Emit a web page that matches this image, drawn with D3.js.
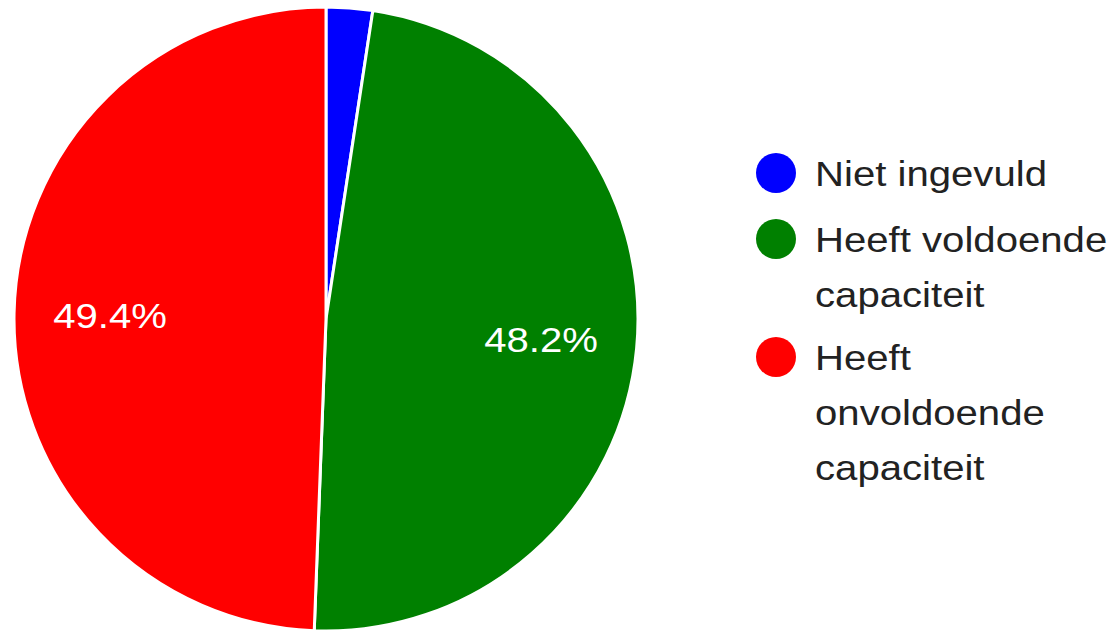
<!DOCTYPE html>
<html>
<head>
<meta charset="utf-8">
<script src="https://cdn.jsdelivr.net/npm/d3@7"></script>
<style>
  body { margin: 0; background: #fff; }
  svg { display: block; }
</style>
</head>
<body>
<script>
// chart data
var categories = ["Niet ingevuld", "Heeft voldoende capaciteit", "Heeft onvoldoende capaciteit"];
var values = [2.4, 48.2, 49.4];
var colors = ["#0000ff", "#008000", "#ff0000"];
// legend text split into lines like the original
var legendLines = [["Niet ingevuld"], ["Heeft voldoende", "capaciteit"], ["Heeft", "onvoldoende", "capaciteit"]];

var width = 1114, height = 630;
var cx = 326, cy = 319, radius = 312;
// the original text is a bit wider than plain Liberation Sans
var stretch = 1.115;

var svg = d3.select("body").append("svg")
        .attr("width", width)
        .attr("height", height);

var pie = d3.pie().sort(null).value(function(d){ return d; });
var arcs = pie(values);

var arc = d3.arc().innerRadius(0).outerRadius(radius);
var labelArc = d3.arc().innerRadius(216).outerRadius(216);

var g = svg.append("g").attr("transform", "translate(" + cx + "," + cy + ")");

g.selectAll("path")
        .data(arcs)
        .enter().append("path")
                .attr("d", arc)
                .attr("fill", function(d,i){ return colors[i]; })
                .attr("stroke", "#fff")
                .attr("stroke-width", 3);

// percent labels, only for the big slices
g.selectAll("text")
        .data(arcs.filter(function(d){ return d.value > 5; }))
        .enter().append("text")
                .attr("transform", function(d){ return "translate(" + labelArc.centroid(d) + ") scale(" + stretch + ",1)"; })
                .attr("text-anchor", "middle")
                .attr("dy", "0.36em")
                .attr("fill", "#fff")
                .style("font-family", "Liberation Sans, Arial, sans-serif")
                .style("font-size", "36px")
                .text(function(d){ return d.value.toFixed(1) + "%"; });

// legend
var legendY = [173, 239, 357];
var lineH = 55;
var legend = svg.selectAll("g.legend")
        .data(categories)
        .enter().append("g")
                .attr("class", "legend")
                .attr("transform", function(d,i){ return "translate(776," + legendY[i] + ")"; });

legend.append("circle")
        .attr("r", 20)
        .attr("fill", function(d,i){ return colors[i]; });

legend.each(function(d,i){
    var t = d3.select(this).append("text")
            .attr("transform", "translate(39,13) scale(" + stretch + ",1)")
            .attr("fill", "#222")
            .style("font-family", "Liberation Sans, Arial, sans-serif")
            .style("font-size", "36px");
    legendLines[i].forEach(function(line, j){
        t.append("tspan").attr("x", 0).attr("dy", j === 0 ? 0 : lineH).text(line);
    });
});
</script>
</body>
</html>
